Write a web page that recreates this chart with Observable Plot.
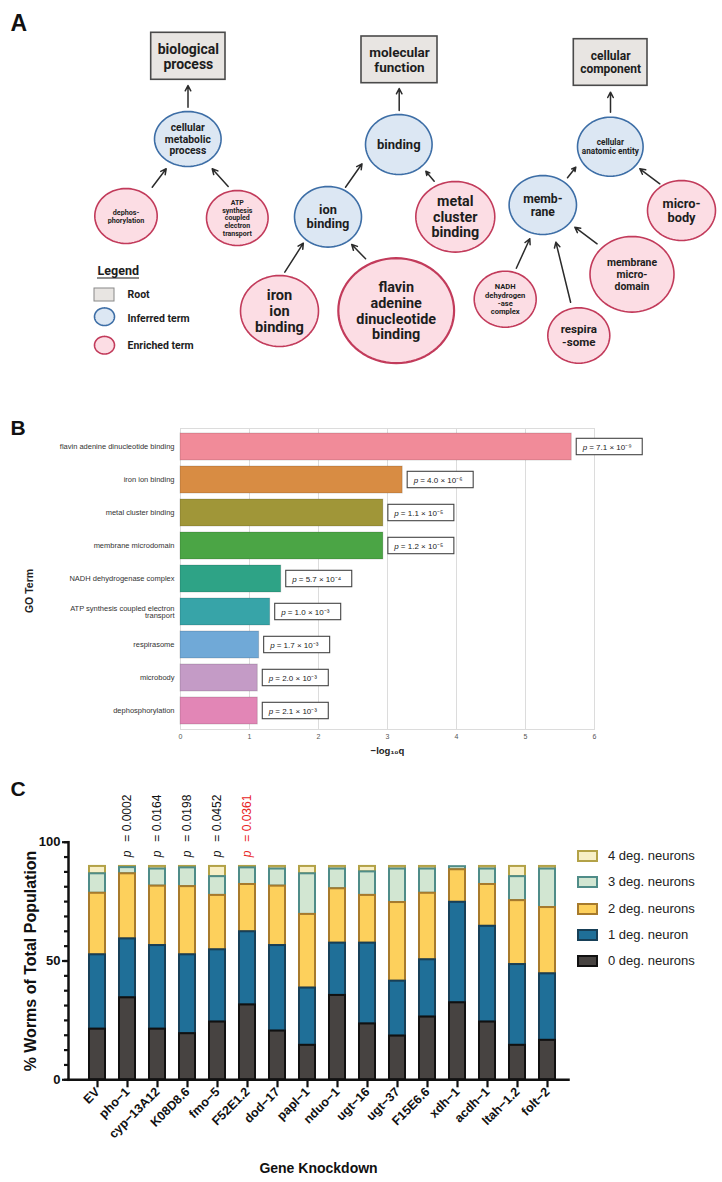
<!DOCTYPE html>
<html>
<head>
<meta charset="utf-8">
<script src="https://cdn.jsdelivr.net/npm/d3@7"></script>
<script src="https://cdn.jsdelivr.net/npm/@observablehq/plot@0.6"></script>
<style>
  html, body { margin: 0; padding: 0; background: #fff; }
  #page { position: relative; width: 722px; height: 1182px; overflow: hidden; background: #fff; }
  .panel { position: absolute; left: 0; }
  .leg { position: absolute; font-family: "Liberation Sans", Arial, sans-serif; font-size: 13px; color: #222; white-space: nowrap; }
  .legbox { position: absolute; width: 17px; height: 8px; border: 2px solid; }
</style>
</head>
<body>
<div id="page">
  <div id="panelA" class="panel" style="top:0px"></div>
  <div id="panelB" class="panel" style="top:380px"></div>
  <div id="panelC" class="panel" style="top:780px"></div>
  <div id="legendC"></div>
</div>
<script>
// ---------------- Panel A: GO hierarchy (diagram) ----------------
const rootLabels = ["biological\nprocess", "molecular\nfunction", "cellular\ncomponent"];
const termLabels = [
  "cellular\nmetabolic\nprocess", "dephos-\nphorylation", "ATP\nsynthesis\ncoupled\nelectron\ntransport",
  "ion\nbinding", "binding", "metal\ncluster\nbinding", "iron\nion\nbinding",
  "flavin\nadenine\ndinucleotide\nbinding", "cellular\nanatomic entity", "memb-\nrane",
  "micro-\nbody", "membrane\nmicro-\ndomain", "NADH\ndehydrogen\n-ase\ncomplex", "respira\n-some"
];
const termTypes = ["inferred","enriched","enriched","inferred","inferred","enriched","enriched",
  "enriched","inferred","inferred","enriched","enriched","enriched","enriched"];
const legendLabels = ["Root", "Inferred term", "Enriched term"];

// diagram layout (pixel coordinates of the drawing)
const rootLayout = [
  {x1: 150.7, x2: 225, y1: 32.3, y2: 79.3, fs: 14, lh: 15.3},
  {x1: 361, x2: 437, y1: 36, y2: 82.7, fs: 13.5, lh: 14.6},
  {x1: 573.3, x2: 647, y1: 38.7, y2: 85.3, fs: 12, lh: 13}
];
const termLayout = [
  {cx: 187.3, cy: 138.5, rx: 33.3, ry: 27.5, fs: 10.3, lh: 11.4},
  {cx: 125.5, cy: 215.5, rx: 31.2, ry: 27.5, fs: 7.2, lh: 8},
  {cx: 236.8, cy: 217.5, rx: 30.8, ry: 27.5, fs: 7, lh: 7.7},
  {cx: 327.5, cy: 216.3, rx: 33.5, ry: 30.3, fs: 12.8, lh: 13.8},
  {cx: 398.3, cy: 144, rx: 33.3, ry: 30, fs: 13, lh: 13},
  {cx: 454.8, cy: 216.3, rx: 39.5, ry: 35.3, fs: 14.3, lh: 15.6},
  {cx: 279, cy: 310.5, rx: 39, ry: 35.5, fs: 14.6, lh: 16},
  {cx: 395.7, cy: 310.2, rx: 57.9, ry: 52.5, fs: 14.4, lh: 15.8},
  {cx: 609.8, cy: 146.2, rx: 32.8, ry: 29.5, fs: 8.2, lh: 9.4},
  {cx: 542.3, cy: 204.5, rx: 33.7, ry: 29.5, fs: 12.2, lh: 13.4},
  {cx: 681, cy: 210, rx: 34, ry: 30, fs: 12.8, lh: 13.8},
  {cx: 631.5, cy: 273.8, rx: 42, ry: 37.8, fs: 10.4, lh: 11.7},
  {cx: 504.7, cy: 298.7, rx: 31, ry: 28, fs: 7.6, lh: 8.4},
  {cx: 578.3, cy: 335, rx: 31, ry: 27.7, fs: 11.6, lh: 12.6}
];
const arrowLayout = [
  [187.5, 106.7, 187.5, 85], [151.7, 186.7, 165.7, 168.3], [227.7, 186, 211.7, 168.3],
  [398.7, 110, 398.7, 88], [345, 186.7, 361.5, 163.3], [433.7, 180.7, 425.3, 170.7],
  [284.3, 271.7, 302.8, 242.7], [365.1, 258.3, 351.2, 244],
  [610, 111.7, 610, 91.7], [567, 177.3, 575.3, 166.7], [659.3, 183.3, 639.3, 168.3],
  [596.6, 243.3, 574.3, 226.7], [515.8, 267.7, 529.3, 238.3], [570.1, 301.7, 555.4, 241.7]
];
const legendLayout = {title: [97, 270], underline: [97, 139, 277.5],
  box: {x1: 94, x2: 114, y1: 288, y2: 301}, inferred: [104, 316.2], enriched: [104, 344.7],
  textX: 127, textY: [294, 318.3, 345]};

const typeFill = {inferred: "#DCE7F3", enriched: "#FCDDE4"};
const typeStroke = {inferred: "#3D6EA6", enriched: "#C23B5B"};

{
  const shapes = termLabels.map((label, i) => ({id: "t" + i, type: termTypes[i], label, ...termLayout[i]}));
  shapes.push({id: "legInf", type: "inferred", cx: legendLayout.inferred[0], cy: legendLayout.inferred[1], rx: 10, ry: 8.8});
  shapes.push({id: "legEnr", type: "enriched", cx: legendLayout.enriched[0], cy: legendLayout.enriched[1], rx: 10, ry: 8.8});
  const outline = shapes.flatMap(s => d3.range(73).map(j => {
    const a = j / 72 * 2 * Math.PI;
    return {id: s.id, type: s.type, big: s.rx > 50, x: s.cx + s.rx * Math.cos(a), y: s.cy + s.ry * Math.sin(a)};
  }));
  const roots = rootLabels.map((label, i) => ({label, ...rootLayout[i]}));
  const arrows = arrowLayout.map(([x1, y1, x2, y2]) => ({x1, y1, x2, y2}));
  const font = "Roboto, 'Liberation Sans', sans-serif";
  const marks = [
    Plot.rect(roots, {x1: "x1", x2: "x2", y1: "y1", y2: "y2", fill: "#E8E5E2", stroke: "#4a4a4a", strokeWidth: 1.6}),
    Plot.rect([legendLayout.box], {x1: "x1", x2: "x2", y1: "y1", y2: "y2", fill: "#E8E5E2", stroke: "#888", strokeWidth: 1}),
    Plot.line(outline, {x: "x", y: "y", z: "id", fill: d => typeFill[d.type], stroke: d => typeStroke[d.type],
      strokeWidth: d => d.big ? 2.2 : 1.6, curve: "linear"}),
    Plot.arrow(arrows, {x1: "x1", y1: "y1", x2: "x2", y2: "y2", stroke: "#2b2b2b", strokeWidth: 1.5, headLength: 6, headAngle: 55}),
    ...roots.map(r => Plot.text([r], {x: d => (d.x1 + d.x2) / 2, y: d => (d.y1 + d.y2) / 2, text: "label",
      fontSize: r.fs, lineHeight: r.lh / r.fs, fontWeight: "bold", fill: "#1d1d1d"})),
    ...shapes.filter(s => s.label).map(s => Plot.text([s], {x: "cx", y: "cy", text: "label",
      fontSize: s.fs, lineHeight: s.lh / s.fs, fontWeight: "bold", fill: "#1d1d1d"})),
    Plot.text(["Legend"], {x: () => legendLayout.title[0], y: () => legendLayout.title[1], textAnchor: "start",
      fontSize: 12.5, fontWeight: "bold", fill: "#1d1d1d"}),
    Plot.ruleY([legendLayout.underline[2]], {x1: legendLayout.underline[0], x2: legendLayout.underline[1], stroke: "#1d1d1d", strokeWidth: 1.1}),
    Plot.text(legendLabels, {x: () => legendLayout.textX, y: (d, i) => legendLayout.textY[i], text: d => d,
      textAnchor: "start", fontSize: 10.5, fontWeight: "bold", fill: "#1d1d1d"}),
    Plot.text(["A"], {x: () => 10, y: () => 23.5, textAnchor: "start", fontSize: 23, fontWeight: "bold",
      fontFamily: "'Liberation Sans', Arial, sans-serif", fill: "#111"})
  ];
  const chart = Plot.plot({
    width: 722, height: 380, margin: 0, axis: null,
    x: {domain: [0, 722], range: [0, 722]},
    y: {domain: [0, 380], range: [0, 380]},
    style: {fontFamily: font, background: "#fff", overflow: "visible"},
    marks
  });
  document.getElementById("panelA").appendChild(chart);
}

// ---------------- Panel B: GO term enrichment bars ----------------
const goTerms = ["flavin adenine dinucleotide binding", "iron ion binding", "metal cluster binding",
  "membrane microdomain", "NADH dehydrogenase complex", "ATP synthesis coupled electron transport",
  "respirasome", "microbody", "dephosphorylation"];
const goTickLabels = ["flavin adenine dinucleotide binding", "iron ion binding", "metal cluster binding",
  "membrane microdomain", "NADH dehydrogenase complex", "ATP synthesis coupled electron\ntransport",
  "respirasome", "microbody", "dephosphorylation"];
const negLog10q = [5.67, 3.22, 2.94, 2.94, 1.46, 1.30, 1.14, 1.12, 1.12];
const pValueText = ["7.1 × 10⁻⁹", "4.0 × 10⁻⁶", "1.1 × 10⁻⁵", "1.2 × 10⁻⁵", "5.7 × 10⁻⁴",
  "1.0 × 10⁻³", "1.7 × 10⁻³", "2.0 × 10⁻³", "2.1 × 10⁻³"];
const xTicksB = [0, 1, 2, 3, 4, 5, 6];
const goColors = ["#F18B99", "#D88C43", "#A09638", "#4BA545", "#2EA386", "#37A4A8", "#70A9D7", "#C49BC6", "#E286B6"];

{
  const data = goTerms.map((term, i) => ({term, v: negLog10q[i], p: pValueText[i], c: goColors[i]}));
  const tickLab = new Map(goTerms.map((t, i) => [t, goTickLabels[i]]));
  const chart = Plot.plot({
    width: 722, height: 400, marginTop: 48, marginBottom: 51, marginLeft: 180, marginRight: 128,
    x: {domain: [0, 6]},
    y: {domain: goTerms, paddingInner: 0.18, paddingOuter: 0.11},
    style: {fontFamily: "'Liberation Sans', Arial, sans-serif", background: "#fff", overflow: "visible"},
    marks: [
      Plot.gridX(xTicksB, {stroke: "#dcdcdc", strokeOpacity: 1, strokeWidth: 1}),
      Plot.frame({stroke: "#dcdcdc", strokeWidth: 1}),
      Plot.barX(data, {x: "v", y: "term", fill: "c", stroke: "#000", strokeOpacity: 0.15, strokeWidth: 1}),
      Plot.barX(data, {x1: "v", x2: "v", y: "term", insetLeft: 5, insetRight: -71, insetTop: 5.3, insetBottom: 5.3,
        fill: "#fff", stroke: "#444", strokeWidth: 1.1}),
      Plot.text(data, {x: "v", y: "term", text: () => "p", dx: 11, textAnchor: "start", fontStyle: "italic",
        fontSize: 8, fill: "#222"}),
      Plot.text(data, {x: "v", y: "term", text: d => "= " + d.p, dx: 17.5, textAnchor: "start", fontSize: 8, fill: "#222"}),
      Plot.axisY({tickSize: 0, tickPadding: 6, fontSize: 7.5, color: "#333", label: null, tickFormat: d => tickLab.get(d)}),
      Plot.axisX({ticks: xTicksB, tickSize: 0, tickPadding: 5, fontSize: 7, color: "#555", label: null, tickFormat: d3.format("d")}),
      Plot.text(["−log₁₀q"], {frameAnchor: "bottom", lineAnchor: "middle", dy: 21, fontSize: 9.5, fontWeight: "bold", fill: "#222"}),
      Plot.text(["GO Term"], {frameAnchor: "left", textAnchor: "middle", lineAnchor: "middle", dx: -151, dy: 12, rotate: -90,
        fontSize: 10.5, fontWeight: "bold", fill: "#222"}),
      Plot.text(["B"], {frameAnchor: "top-left", textAnchor: "start", lineAnchor: "middle", dx: -170, dy: -0.5,
        fontSize: 21, fontWeight: "bold", fill: "#111"})
    ]
  });
  document.getElementById("panelB").appendChild(chart);
}

// ---------------- Panel C: stacked bars ----------------
const genes = ["EV", "pho−1", "cyp−13A12", "K08D8.6", "fmo−5", "F52E1.2", "dod−17", "papl−1", "nduo−1",
  "ugt−16", "ugt−37", "F15E6.6", "xdh−1", "acdh−1", "ltah−1.2", "folt−2"];
const degNames = ["0 deg. neurons", "1 deg. neuron", "2 deg. neurons", "3 deg. neurons", "4 deg. neurons"];
const deg0 = [21.3, 34.5, 21.3, 19.4, 24.3, 31.5, 20.5, 14.5, 35.5, 23.5, 18.4, 26.4, 32.4, 24.3, 14.5, 16.6];
const deg1 = [31.3, 24.8, 35.2, 33.2, 30.4, 30.8, 36.0, 24.1, 22.0, 34.0, 23.1, 24.1, 42.3, 40.3, 34.0, 28.0];
const deg2 = [25.9, 27.4, 25.0, 28.7, 22.9, 19.9, 25.0, 31.0, 22.9, 20.1, 33.1, 28.0, 13.7, 17.6, 26.9, 27.9];
const deg3 = [8.2, 2.6, 7.2, 7.9, 7.9, 7.0, 7.2, 17.1, 8.3, 9.9, 14.1, 10.2, 1.3, 6.5, 10.1, 16.2];
const deg4 = [3.1, 0.5, 1.1, 0.6, 4.3, 0.6, 1.1, 3.1, 1.1, 2.3, 1.1, 1.1, 0.0, 1.1, 4.3, 1.1];
const pGenes = ["pho−1", "cyp−13A12", "K08D8.6", "fmo−5", "F52E1.2"];
const pValues = ["0.0002", "0.0164", "0.0198", "0.0452", "0.0361"];
const yMajorTicks = [0, 50, 100];
const yMinorTicks = d3.range(0, 100.01, 6.25);

const degFill = ["#474341", "#1F6F98", "#FDD05C", "#D2E6D2", "#F7EFC6"];
const degStroke = ["#111111", "#173F57", "#A77A2C", "#4F8C88", "#B3A247"];
const pColor = ["#111", "#111", "#111", "#111", "#E8241F"];

{
  const degs = [deg0, deg1, deg2, deg3, deg4];
  const data = [];
  genes.forEach((g, i) => {
    for (let k = 4; k >= 0; k--) {
      const v = degs[k][i];
      if (v > 0) data.push({gene: g, k, v});
    }
  });
  const pData = pGenes.map((g, i) => ({gene: g, p: pValues[i], c: pColor[i]}));
  const chart = Plot.plot({
    width: 722, height: 402, marginTop: 61.7, marginBottom: 102.7, marginLeft: 68, marginRight: 154,
    x: {domain: genes, range: [68, 575.4], paddingInner: 0.46, paddingOuter: 0.63},
    y: {domain: [0, 100]},
    style: {fontFamily: "'Liberation Sans', Arial, sans-serif", background: "#fff", overflow: "visible", fontWeight: "bold", color: "#111"},
    marks: [
      Plot.barY(data, Plot.stackY({x: "gene", y: "v", z: "k", order: [0, 1, 2, 3, 4],
        fill: d => degFill[d.k], stroke: d => degStroke[d.k], strokeWidth: 2})),
      Plot.axisY({ticks: yMinorTicks, tickSize: 4, tickFormat: () => "", strokeWidth: 2.2, label: null}),
      Plot.axisY({ticks: yMajorTicks, tickSize: 6, tickPadding: 2, fontSize: 13, fontWeight: "bold", strokeWidth: 2.2, label: null}),
      Plot.axisX({tickSize: 8, tickPadding: 2, tickRotate: -45, fontSize: 12.5, fontWeight: "bold", strokeWidth: 2.2, label: null}),
      Plot.frame({anchor: "left", strokeWidth: 2.5, stroke: "#111"}),
      Plot.frame({anchor: "bottom", strokeWidth: 2.5, stroke: "#111"}),
      Plot.text(pData, {x: "gene", text: () => "p", frameAnchor: "top", lineAnchor: "middle", dy: 15, rotate: -90, textAnchor: "start",
        fontStyle: "italic", fontWeight: "normal", fontSize: 12, fill: "c"}),
      Plot.text(pData, {x: "gene", text: d => "= " + d.p, frameAnchor: "top", lineAnchor: "middle", dy: -0.5, rotate: -90, textAnchor: "start",
        fontWeight: "normal", fontSize: 12, fill: "c"}),
      Plot.text(["% Worms of Total Population"], {frameAnchor: "left", textAnchor: "middle", lineAnchor: "middle",
        dx: -38, rotate: -90, fontSize: 16, fontWeight: "bold", fill: "#111"}),
      Plot.text(["Gene Knockdown"], {frameAnchor: "bottom", lineAnchor: "middle", dy: 88.7, fontSize: 14, fontWeight: "bold", fill: "#111"}),
      Plot.text(["C"], {frameAnchor: "top-left", textAnchor: "start", lineAnchor: "middle", dx: -58, dy: -52.7,
        fontSize: 21, fontWeight: "bold", fill: "#111"})
    ]
  });
  document.getElementById("panelC").appendChild(chart);

  // legend
  const leg = document.getElementById("legendC");
  const rowY = [961, 935, 909, 882, 855.7];
  degNames.forEach((name, k) => {
    const box = document.createElement("div");
    box.className = "legbox";
    box.style.left = "577px";
    box.style.top = (rowY[k] - 6) + "px";
    box.style.background = degFill[k];
    box.style.borderColor = degStroke[k];
    leg.appendChild(box);
    const t = document.createElement("div");
    t.className = "leg";
    t.textContent = name;
    t.style.left = "608px";
    t.style.top = (rowY[k] - 8) + "px";
    t.style.lineHeight = "16px";
    leg.appendChild(t);
  });
}
</script>
</body>
</html>
